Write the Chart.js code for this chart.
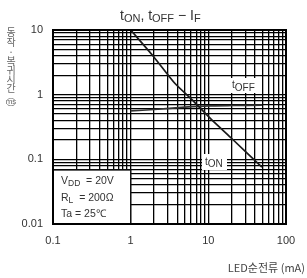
<!DOCTYPE html>
<html>
<head>
<meta charset="utf-8">
<script src="https://cdn.jsdelivr.net/npm/chart.js@4"></script>
<style>
  html, body { margin: 0; padding: 0; background: #fff; }
</style>
</head>
<body>
<canvas id="chart" width="307" height="278"></canvas>
<script>
// LED forward current (mA) vs. switching times (ms)
var tonCurrent = [1, 2, 3.7, 6.2, 11, 20, 49];
var tonTime = [10, 3.8, 1.5, 0.83, 0.41, 0.21, 0.076];
var toffCurrent = [1, 2, 5, 10, 20, 49];
var toffTime = [0.56, 0.59, 0.64, 0.67, 0.68, 0.69];
var xTickLabels = ['0.1', '1', '10', '100'];
var yTickLabels = ['0.01', '0.1', '1', '10'];
var yTitleChars = ['동', '작', '·', '복', '귀', '시', '간'];
var xTitle = 'LED순전류 (mA)';

var LATIN = '"Liberation Sans", Arial, sans-serif';
var KR = '"Noto Sans CJK KR", sans-serif';

// gridlines at 1..9 of each decade
function logGrid(min, max) {
    var out = [];
    for (var d = min; d < max * 0.999; d *= 10) {
        for (var k = 1; k <= 9; k++) out.push(+(d * k).toPrecision(3));
    }
    out.push(max);
    return out;
}

function drawParts(ctx, parts, x, y) {
    // parts: [text, fontSize, baselineShift]
    parts.forEach(function (p) {
        ctx.font = p[1] + 'px ' + LATIN;
        ctx.fillText(p[0], x, y + p[2]);
        x += ctx.measureText(p[0]).width;
    });
    return x;
}

var textPlugin = {
    id: 'texts',
    beforeDatasetsDraw: function (chart) {
        var ctx = chart.ctx, a = chart.chartArea;
        var x1 = chart.scales.x.getPixelForValue(1);
        var yTop = 170;
        ctx.save();
        // conditions box
        ctx.fillStyle = '#fff';
        ctx.fillRect(a.left, yTop, x1 - a.left, a.bottom - yTop);
        ctx.strokeStyle = '#111';
        ctx.lineWidth = 1.3;
        ctx.strokeRect(a.left, yTop, x1 - a.left, a.bottom - yTop);
        ctx.fillStyle = '#333';
        ctx.textBaseline = 'alphabetic';
        drawParts(ctx, [['V', 10.5, 0], ['DD', 8.5, 2], ['  = 20V', 10.5, 0]], a.left + 8, 184);
        drawParts(ctx, [['R', 10.5, 0], ['L', 8.5, 2], ['  = 200Ω', 10.5, 0]], a.left + 8, 201);
        drawParts(ctx, [['Ta = 25℃', 10.5, 0]], a.left + 8, 217);
        ctx.restore();
    },
    afterDatasetsDraw: function (chart) {
        var ctx = chart.ctx, a = chart.chartArea;
        ctx.save();
        // frame
        ctx.strokeStyle = '#000';
        ctx.lineWidth = 2;
        ctx.strokeRect(a.left, a.top, a.right - a.left, a.bottom - a.top);

        // curve labels
        ctx.fillStyle = '#fff';
        ctx.fillRect(228, 78, 33, 15);
        ctx.fillStyle = '#333';
        drawParts(ctx, [['t', 10, -2], ['OFF', 10, 1]], 232, 90);
        ctx.fillStyle = '#fff';
        ctx.fillRect(202, 154, 25, 16);
        ctx.fillStyle = '#333';
        drawParts(ctx, [['t', 10, -1], ['ON', 10, 1]], 205, 166);

        // title
        var title = [['t', 14, 0], ['ON', 11, 2], [', ', 14, 0], ['t', 14, 0], ['OFF', 11, 2],
                     [' − ', 14, 0], ['I', 14, 0], ['F', 11, 2]];
        drawParts(ctx, title, 120, 20);

        // vertical y title, upright characters
        ctx.fillStyle = '#666';
        ctx.textAlign = 'center';
        ctx.textBaseline = 'middle';
        ctx.font = '10px ' + KR;
        var ys = [32, 42, 52, 61, 70, 79, 88];
        yTitleChars.forEach(function (ch, i) { ctx.fillText(ch, 11, ys[i]); });
        ctx.font = '8px ' + KR;
        ctx.fillText('︵', 11, 96);
        ctx.font = '8px ' + LATIN;
        ctx.fillText('ms', 11, 102);
        ctx.font = '8px ' + KR;
        ctx.fillText('︶', 11, 108);

        // x title
        ctx.fillStyle = '#444';
        ctx.textAlign = 'right';
        ctx.font = '11px ' + KR;
        ctx.fillText(xTitle, 305, 268);
        ctx.restore();
    }
};

var ctx = document.getElementById('chart').getContext('2d');
var chart = new Chart(ctx, {
    type: 'line',
    data: {
        datasets: [{
            label: 'tON',
            data: tonCurrent.map(function (v, i) { return { x: v, y: tonTime[i] }; }),
            borderColor: '#1a1a1a',
            borderWidth: 1.7,
            pointRadius: 0,
            tension: 0.2,
            fill: false
        }, {
            label: 'tOFF',
            data: toffCurrent.map(function (v, i) { return { x: v, y: toffTime[i] }; }),
            borderColor: '#333',
            borderWidth: 1.7,
            pointRadius: 0,
            tension: 0.2,
            fill: false
        }]
    },
    options: {
        responsive: false,
        animation: false,
        layout: { padding: { top: 30, right: 21, left: 0, bottom: 0 } },
        plugins: { legend: { display: false }, tooltip: { enabled: false }, title: { display: false } },
        scales: {
            x: {
                type: 'logarithmic',
                min: 0.1,
                max: 100,
                afterBuildTicks: function (s) { s.ticks = logGrid(0.1, 100).map(function (v) { return { value: v }; }); },
                afterFit: function (s) { s.height = 54; },
                grid: { color: '#000', lineWidth: 1.3, drawTicks: false },
                border: { display: false },
                ticks: {
                    autoSkip: false,
                    maxRotation: 0,
                    padding: 10,
                    color: '#333',
                    font: { family: LATIN, size: 11 },
                    callback: function (v) { var t = String(+v.toPrecision(3)); return xTickLabels.indexOf(t) >= 0 ? t : ''; }
                }
            },
            y: {
                type: 'logarithmic',
                min: 0.01,
                max: 10,
                afterBuildTicks: function (s) { s.ticks = logGrid(0.01, 10).map(function (v) { return { value: v }; }); },
                afterFit: function (s) { s.width = 53; },
                grid: { color: '#000', lineWidth: 1.3, drawTicks: false },
                border: { display: false },
                ticks: {
                    autoSkip: false,
                    padding: 10,
                    color: '#333',
                    font: { family: LATIN, size: 11 },
                    callback: function (v) { var t = String(+v.toPrecision(3)); return yTickLabels.indexOf(t) >= 0 ? t : ''; }
                }
            }
        }
    },
    plugins: [textPlugin]
});
</script>
</body>
</html>
